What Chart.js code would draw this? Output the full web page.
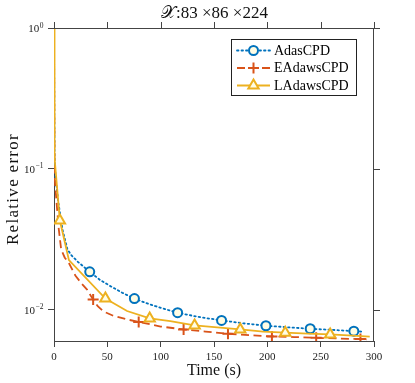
<!DOCTYPE html>
<html>
<head>
<meta charset="utf-8">
<script src="https://cdn.jsdelivr.net/npm/chart.js@4.4.1/dist/chart.umd.min.js"></script>
<style>
html,body{margin:0;padding:0;background:#fff;}
#wrap{width:415px;height:383px;}
</style>
</head>
<body>
<div id="wrap"><canvas id="c" width="415" height="383"></canvas></div>
<script>
// ---- data ----
const chartTitle = "\u{1D4B3}:83 \u00D786 \u00D7224";
const xLabel = "Time (s)";
const yLabel = "Relative error";
const seriesNames = ["AdasCPD", "EAdawsCPD", "LAdawsCPD"];
const xTicks = [0, 50, 100, 150, 200, 250, 300];
const yTickExponents = [0, -1, -2];

const adasT = [0, 0.5, 1.5, 4.2, 8, 12.5, 16, 22.6, 33.5, 43, 53, 64, 75.4, 90, 106, 115.9, 135, 157.1, 178, 198.7, 220, 240.2, 260, 281.1, 288];
const adasV = [1, 0.12, 0.085, 0.057, 0.037, 0.027, 0.0245, 0.0218, 0.0186, 0.0163, 0.0147, 0.0132, 0.0120, 0.0109, 0.0100, 0.00953, 0.0089, 0.0084, 0.0080, 0.0077, 0.0075, 0.00733, 0.0072, 0.00705, 0.0070];
const adasMarkIdx = [8, 12, 15, 17, 19, 21, 23];

const eadawsT = [0, 0.5, 1.7, 4.2, 6.7, 10, 13.9, 20, 26, 31, 36.7, 41, 46.6, 55, 68.5, 79.4, 100, 121.5, 142, 163.1, 184, 204.3, 225, 245.8, 266, 287.3, 293];
const eadawsV = [1, 0.09, 0.0676, 0.039, 0.0268, 0.0235, 0.0215, 0.0175, 0.0153, 0.0139, 0.0118, 0.0106, 0.0097, 0.0091, 0.00853, 0.0082, 0.0076, 0.00725, 0.0070, 0.00676, 0.0066, 0.00647, 0.0064, 0.00632, 0.00625, 0.00619, 0.00617];
const eadawsMarkIdx = [10, 15, 17, 19, 21, 23, 25];

const ladawsT = [0, 0.5, 5.5, 14, 48.2, 68.5, 89.7, 109, 131.8, 153, 174.6, 196, 216.8, 238, 258.9, 280, 296];
const ladawsV = [1, 0.12, 0.043, 0.0225, 0.0120, 0.0098, 0.00867, 0.0083, 0.00774, 0.0075, 0.00725, 0.0070, 0.00687, 0.00677, 0.00668, 0.00655, 0.00645];
const ladawsMarkIdx = [2, 4, 6, 8, 10, 12, 14];

// ---- styles ----
const COLORS = ["#0072BD", "#D95319", "#EDB120"];
const MFILL = "#FFFDE4";
const AXC = "#444444";
const SERIF = "'Liberation Serif', 'Times New Roman', serif";

function pts(t, v) { return t.map((x, i) => ({x: x, y: v[i]})); }
function mpts(t, v, idx) { return idx.map(i => ({x: t[i], y: v[i]})); }

const styles = [
  {dash: [1.5, 3], cap: 'round', ps: 'circle', r: 4.5},
  {dash: [8, 4.5], cap: 'butt', ps: 'cross', r: 5.5},
  {dash: [], cap: 'butt', ps: 'triangle', r: 6}
];
const seriesT = [adasT, eadawsT, ladawsT];
const seriesV = [adasV, eadawsV, ladawsV];
const seriesM = [adasMarkIdx, eadawsMarkIdx, ladawsMarkIdx];

const datasets = [];
for (let s = 0; s < 3; s++) {
  datasets.push({
    label: seriesNames[s],
    data: pts(seriesT[s], seriesV[s]),
    borderColor: COLORS[s],
    borderWidth: 1.8,
    borderDash: styles[s].dash,
    borderCapStyle: styles[s].cap,
    pointRadius: 0,
    tension: 0,
    fill: false,
    order: 6 - 2 * s
  });
  datasets.push({
    label: seriesNames[s] + " markers",
    data: mpts(seriesT[s], seriesV[s], seriesM[s]),
    showLine: false,
    pointStyle: styles[s].ps,
    pointRadius: styles[s].r,
    pointBorderWidth: 2,
    pointBorderColor: COLORS[s],
    pointBackgroundColor: s === 1 ? COLORS[s] : MFILL,
    order: 5 - 2 * s
  });
}

const decor = {
  id: 'decor',
  afterDraw(chart) {
    const ctx = chart.ctx;
    const a = chart.chartArea;
    const xs = chart.scales.x, ys = chart.scales.y;
    ctx.save();
    // box top/right
    ctx.strokeStyle = AXC; ctx.lineWidth = 1;
    ctx.beginPath();
    ctx.moveTo(a.left, a.top + 0.5); ctx.lineTo(a.right, a.top + 0.5);
    ctx.moveTo(a.right - 0.5, a.top); ctx.lineTo(a.right - 0.5, a.bottom);
    ctx.stroke();
    // top ticks (outward)
    ctx.beginPath();
    xTicks.forEach(v => {
      const px = Math.round(xs.getPixelForValue(v)) + 0.5;
      ctx.moveTo(px, a.top); ctx.lineTo(px, a.top - 6);
    });
    // right ticks (outward)
    yTickExponents.forEach(e => {
      const py = Math.round(ys.getPixelForValue(Math.pow(10, e))) + 0.5;
      ctx.moveTo(a.right, py); ctx.lineTo(a.right + 6, py);
    });
    ctx.stroke();

    // y tick labels 10^e
    ctx.fillStyle = "#222";
    yTickExponents.forEach(e => {
      const py = ys.getPixelForValue(Math.pow(10, e));
      const expTxt = e < 0 ? "\u2212" + (-e) : String(e);
      ctx.font = "7.5px " + SERIF;
      const ew = ctx.measureText(expTxt).width;
      const rightEdge = 43.5;
      ctx.textAlign = 'left'; ctx.textBaseline = 'alphabetic';
      ctx.fillText(expTxt, rightEdge - ew, py - 0.5);
      ctx.font = "11px " + SERIF;
      ctx.textAlign = 'right';
      ctx.fillText("10", rightEdge - ew - 0.5, py + 4);
    });

    // axis titles
    ctx.fillStyle = "#111";
    ctx.font = "16px " + SERIF;
    ctx.textAlign = 'center'; ctx.textBaseline = 'middle';
    ctx.fillText(xLabel, (a.left + a.right) / 2, 371);
    ctx.save();
    ctx.translate(14, 189);
    ctx.rotate(-Math.PI / 2);
    ctx.font = "17px " + SERIF;
    ctx.letterSpacing = "1.3px";
    ctx.fillText(yLabel, 0, 0);
    ctx.restore();
    // chart title
    ctx.font = "17px " + SERIF;
    ctx.fillText(chartTitle, 214.5, 14);

    // legend
    const lx = 231.5, ly = 39.5, lw = 125, lh = 56;
    ctx.fillStyle = "#fff";
    ctx.fillRect(lx, ly, lw, lh);
    ctx.strokeStyle = "#222"; ctx.lineWidth = 1;
    ctx.setLineDash([]);
    ctx.strokeRect(lx, ly, lw, lh);
    const rows = [50.5, 68, 85.5];
    for (let s = 0; s < 3; s++) {
      const y = rows[s];
      ctx.save();
      ctx.strokeStyle = COLORS[s]; ctx.lineWidth = 1.8;
      ctx.setLineDash(styles[s].dash);
      ctx.lineCap = styles[s].cap;
      ctx.beginPath(); ctx.moveTo(237, y); ctx.lineTo(270, y); ctx.stroke();
      ctx.setLineDash([]);
      ctx.lineCap = 'butt';
      ctx.strokeStyle = COLORS[s]; ctx.fillStyle = s === 1 ? COLORS[s] : MFILL; ctx.lineWidth = 2;
      Chart.helpers.drawPoint(ctx, {pointStyle: styles[s].ps, radius: styles[s].r, borderWidth: 2, rotation: 0}, 253.5, y);
      ctx.restore();
      ctx.fillStyle = "#000";
      ctx.font = "14px " + SERIF;
      ctx.textAlign = 'left'; ctx.textBaseline = 'middle';
      ctx.fillText(seriesNames[s], 274, y + 0.5);
    }
    ctx.restore();
  }
};

new Chart(document.getElementById('c'), {
  type: 'line',
  data: {datasets: datasets},
  options: {
    responsive: false,
    animation: false,
    layout: {padding: {left: 0, right: 41, top: 28, bottom: 0}},
    plugins: {legend: {display: false}, tooltip: {enabled: false}, title: {display: false}},
    scales: {
      x: {
        type: 'linear', min: 0, max: 300,
        afterBuildTicks: sc => { sc.ticks = xTicks.map(v => ({value: v})); },
        afterFit: sc => { sc.height = 42; },
        ticks: {font: {family: SERIF, size: 11}, color: '#222', padding: 4, maxRotation: 0, autoSkip: false},
        grid: {drawOnChartArea: false, drawTicks: true, tickLength: 6, color: AXC},
        border: {display: true, color: AXC, width: 1}
      },
      y: {
        type: 'logarithmic', min: 0.006, max: 1,
        afterBuildTicks: sc => { sc.ticks = yTickExponents.map(e => ({value: Math.pow(10, e)})); },
        afterFit: sc => { sc.width = 54; },
        ticks: {display: false},
        grid: {drawOnChartArea: false, drawTicks: true, tickLength: 6, color: AXC},
        border: {display: true, color: AXC, width: 1}
      }
    }
  },
  plugins: [decor]
});
</script>
</body>
</html>
